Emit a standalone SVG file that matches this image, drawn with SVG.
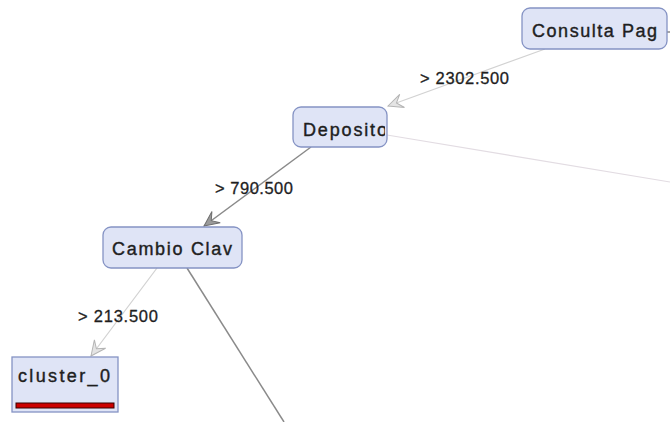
<svg xmlns="http://www.w3.org/2000/svg" width="670" height="422" viewBox="0 0 670 422">
  <style>
    .node { fill: #dfe4f6; stroke: #8593c4; stroke-width: 1.3; }
    .ntext { font-family: "Liberation Sans", Arial, sans-serif; font-size: 18px; fill: #1e1e1e; stroke: #1e1e1e; stroke-width: 0.4; }
    .ltext { font-family: "Liberation Sans", Arial, sans-serif; font-size: 16.5px; fill: #1e1e1e; stroke: #1e1e1e; stroke-width: 0.3; }
    .e-light { stroke: #d2d2d2; stroke-width: 1.2; fill: none; }
    .e-pale { stroke: #e2dce2; stroke-width: 1.2; fill: none; }
    .e-dark { stroke: #8a8a8a; stroke-width: 1.5; fill: none; }
  </style>
  <defs>
    <marker id="arrow-light" markerUnits="userSpaceOnUse" markerWidth="20" markerHeight="20" refX="0" refY="0" viewBox="-16 -10 20 20" orient="auto">
      <path d="M0,0 L-15,-7 L-9,0 L-15,7 Z" fill="#e4e4e4" stroke="#b4b4b4" stroke-width="1"/>
    </marker>
    <marker id="arrow-dark" markerUnits="userSpaceOnUse" markerWidth="20" markerHeight="20" refX="0" refY="0" viewBox="-16 -10 20 20" orient="auto">
      <path d="M0,0 L-15,-7 L-9,0 L-15,7 Z" fill="#9a9a9a" stroke="#6e6e6e" stroke-width="1"/>
    </marker>
    <clipPath id="clip-deposito">
      <rect x="294" y="108" width="91" height="38"/>
    </clipPath>
  </defs>

  <!-- connectors -->
  <g id="edges">
    <line class="e-dark" x1="667" y1="32" x2="670" y2="32"/>
    <line class="e-light" x1="545" y1="49" x2="388" y2="106" marker-end="url(#arrow-light)"/>
    <line class="e-pale" x1="387" y1="135" x2="670" y2="182"/>
    <line class="e-dark" x1="311" y1="147" x2="204" y2="226" marker-end="url(#arrow-dark)"/>
    <line class="e-light" x1="157" y1="268" x2="91" y2="356" marker-end="url(#arrow-light)"/>
    <line class="e-dark" x1="187" y1="268" x2="284" y2="422"/>
  </g>

  <!-- edge labels -->
  <g id="labels">
    <text class="ltext" x="420" y="84" textLength="89" lengthAdjust="spacing">&gt; 2302.500</text>
    <text class="ltext" x="215" y="194" textLength="78" lengthAdjust="spacing">&gt; 790.500</text>
    <text class="ltext" x="78" y="322" textLength="80" lengthAdjust="spacing">&gt; 213.500</text>
  </g>

  <g id="node-consulta-pag">
    <rect class="node" x="522" y="8" width="145" height="41" rx="8"/>
    <text class="ntext" x="532" y="37" textLength="125" lengthAdjust="spacing">Consulta Pag</text>
  </g>

  <g id="node-deposito">
    <rect class="node" x="293" y="107" width="94" height="40" rx="8"/>
    <text class="ntext" x="303" y="136" textLength="84" lengthAdjust="spacing" clip-path="url(#clip-deposito)">Deposito</text>
  </g>

  <g id="node-cambio-clav">
    <rect class="node" x="103" y="227" width="139" height="41" rx="8"/>
    <text class="ntext" x="112" y="255" textLength="120" lengthAdjust="spacing">Cambio Clav</text>
  </g>

  <g id="node-cluster-0">
    <rect class="node" x="12" y="357" width="106" height="55"/>
    <text class="ntext" x="18" y="382" textLength="92" lengthAdjust="spacing">cluster_0</text>
    <rect x="16" y="403" width="98" height="5" fill="#cc0000" stroke="#3a0000" stroke-width="1"/>
  </g>
</svg>
